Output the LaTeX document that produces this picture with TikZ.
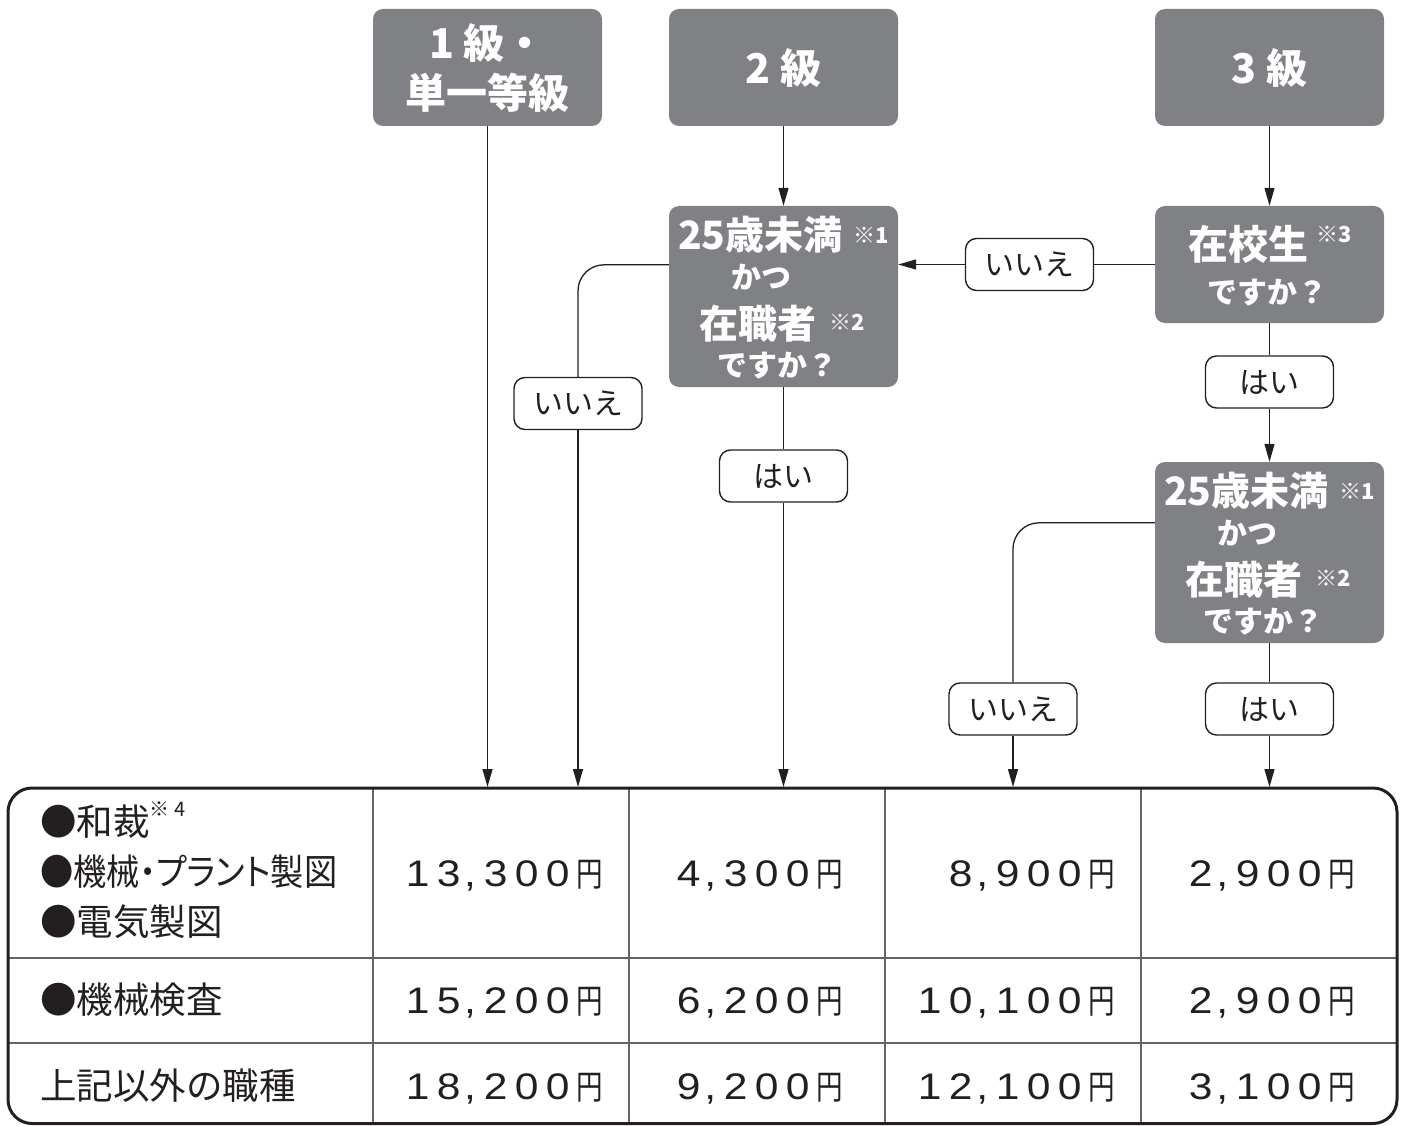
\documentclass[tikz,border=0pt]{standalone}
\usepackage{fontspec}
\setmainfont{Noto Sans CJK JP}
\newfontfamily\numf[FakeStretch=1.15]{Liberation Sans}
\newfontfamily\yenf[FakeStretch=0.78]{Noto Sans CJK JP}
\newfontfamily\paltf[RawFeature=+palt,FakeStretch=0.91]{Noto Sans CJK JP}
\usetikzlibrary{arrows.meta,calc}
\definecolor{boxgrey}{RGB}{128,129,133}
\definecolor{ink}{RGB}{35,31,32}
\definecolor{gridgrey}{RGB}{100,100,100}
\newcommand\fs[1]{\fontsize{#1}{#1}\selectfont}
% prices: each digit in a fixed-width slot
\def\yenval#1{{\fs{37}\numf\yenloop#1\relax}}
\def\yenloop#1{\ifx#1\relax\hspace{3pt}{\fs{34}\yenf 円}\else\yenchar{#1}\expandafter\yenloop\fi}
\def\yenchar#1{\if,#1\makebox[16pt][l]{,}\else\makebox[31pt][c]{#1}\fi}
\newcommand\ageq[3]{%
  \node[greybox, minimum height=181pt] (#1) at (#2,#3+90.5) {};
  \node[wtxt, anchor=base west, font=\bfseries\fs{39}] (#1-l1) at ($(#1.north west)+(9,44)$) {25歳未満};
  \node[wtxt, anchor=base west, font=\bfseries\fs{22}] (#1-n1) at ($(#1.north west)+(184,38)$) {※1};
  \node[wtxt, anchor=base, font=\bfseries\fs{30}] (#1-l2) at ($(#1.north west)+(93,83)$) {かつ};
  \node[wtxt, anchor=base west, font=\bfseries\fs{39}] (#1-l3) at ($(#1.north west)+(30,133)$) {在職者};
  \node[wtxt, anchor=base west, font=\bfseries\fs{22}] (#1-n2) at ($(#1.north west)+(160,125)$) {※2};
  \node[wtxt, anchor=base, font=\bfseries\fs{30}] (#1-l4) at ($(#1.north west)+(109,171)$) {ですか？};
}
\begin{document}
\begin{tikzpicture}[x=1pt,y=-1pt,
  greybox/.style={fill=boxgrey, rounded corners=10pt, minimum width=229pt, inner sep=0pt, text=white},
  ansbox/.style={draw=ink, line width=1.4pt, fill=white, rounded corners=11pt, minimum width=128pt, minimum height=52pt, inner sep=0pt, text=ink, font=\fs{30}},
  conn/.style={draw=ink, line width=1.3pt},
  arr/.style={conn, -{Triangle[length=18pt,width=10pt]}},
  wtxt/.style={text=white, inner sep=0pt},
  cell/.style={inner sep=0pt, text=ink, font=\fs{36.5}},
  price/.style={inner sep=0pt, anchor=base east, text=ink},
]
\useasboundingbox (0,0) rectangle (1403,1126);

% ---- top boxes
\node[greybox, minimum height=117pt, align=center, font=\bfseries\fontsize{41}{50}\selectfont] (b1) at (487.5,67.5) {1 級・\\単一等級};
\node[greybox, minimum height=117pt, font=\bfseries\fs{41}] (b2) at (783.5,67.5) {2 級};
\node[greybox, minimum height=117pt, font=\bfseries\fs{41}] (b3) at (1269.5,67.5) {3 級};

% ---- question boxes
\ageq{q1}{783.5}{206}
\node[greybox, minimum height=117pt] (q2) at (1269.5,264.5) {};
\node[wtxt, anchor=base west, font=\bfseries\fs{40}] (q2-l1) at ($(q2.north west)+(33,54)$) {在校生};
\node[wtxt, anchor=base west, font=\bfseries\fs{22}] (q2-n1) at ($(q2.north west)+(161,37)$) {※3};
\node[wtxt, anchor=base, font=\bfseries\fs{30}] (q2-l2) at ($(q2.north west)+(112.5,98)$) {ですか？};
\ageq{q3}{1269.5}{462}

% ---- answer labels
\node[ansbox] (no1) at (1029.5,264.5) {いいえ};
\node[ansbox] (yes1) at (1269.5,382) {はい};
\node[ansbox] (no2) at (578,403.5) {いいえ};
\node[ansbox] (yes2) at (783.5,476) {はい};
\node[ansbox] (no3) at (1013,709) {いいえ};
\node[ansbox] (yes3) at (1269.5,709) {はい};

% ---- table end points
\coordinate (t1) at (487.5,787);
\coordinate (t2) at (578,787);
\coordinate (t3) at (783.5,787);
\coordinate (t4) at (1013,787);
\coordinate (t5) at (1269.5,787);
\coordinate (q1out) at ($(q1.north west)+(0,59)$);
\coordinate (q3out) at ($(q3.north west)+(0,61)$);

% ---- connectors
\draw[arr] (b1.south) -- (t1);
\draw[arr] (b2.south) -- (q1.north);
\draw[arr] (b3.south) -- (q2.north);
\draw[conn] (q2.west) -- (no1.east);
\draw[arr] (no1.west) -- (q1.east |- no1.west);
\draw[conn, rounded corners=26pt] (q1out) -| (no2.north);
\draw[arr] (no2.south) -- (t2);
\draw[conn] (q1.south) -- (yes2.north);
\draw[arr] (yes2.south) -- (t3);
\draw[conn] (q2.south) -- (yes1.north);
\draw[arr] (yes1.south) -- (q3.north);
\draw[conn, rounded corners=26pt] (q3out) -| (no3.north);
\draw[arr] (no3.south) -- (t4);
\draw[conn] (q3.south) -- (yes3.north);
\draw[arr] (yes3.south) -- (t5);

% ---- table grid
\draw[gridgrey, line width=1.4pt] (8,958) -- (1397,958) (8,1043) -- (1397,1043);
\foreach \cx in {373,629,885,1141} \draw[gridgrey, line width=1.4pt] (\cx,788) -- (\cx,1123);
\draw[ink, line width=3pt, rounded corners=24pt] (8,788) rectangle (1397,1123.5);

% ---- table text
\node[cell, anchor=base west] (r1a) at (40,835) {●和裁\raisebox{19pt}{\fs{20}※\hspace{5pt}4}};
\node[cell, anchor=base west] (r1b) at (40,885) {\paltf ●機械・プラント製図};
\node[cell, anchor=base west] (r1c) at (40,935) {●電気製図};
\node[cell, anchor=base west] (r2) at (40,1013) {●機械検査};
\node[cell, anchor=base west] (r3) at (40,1099) {上記以外の職種};

\node[price] (p11) at (603,886) {\yenval{13,300}};
\node[price] (p12) at (843,886) {\yenval{4,300}};
\node[price] (p13) at (1115,886) {\yenval{8,900}};
\node[price] (p14) at (1355,886) {\yenval{2,900}};
\node[price] (p21) at (603,1013) {\yenval{15,200}};
\node[price] (p22) at (843,1013) {\yenval{6,200}};
\node[price] (p23) at (1115,1013) {\yenval{10,100}};
\node[price] (p24) at (1355,1013) {\yenval{2,900}};
\node[price] (p31) at (603,1099) {\yenval{18,200}};
\node[price] (p32) at (843,1099) {\yenval{9,200}};
\node[price] (p33) at (1115,1099) {\yenval{12,100}};
\node[price] (p34) at (1355,1099) {\yenval{3,100}};
\end{tikzpicture}
\end{document}
